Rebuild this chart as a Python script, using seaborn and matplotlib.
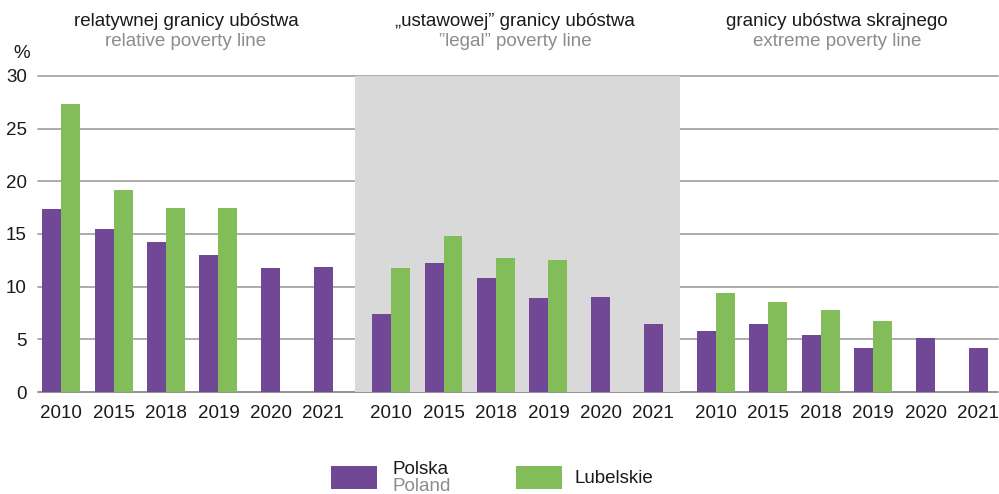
import matplotlib
matplotlib.use("Agg")
import matplotlib.pyplot as plt
from matplotlib.patches import Rectangle
import seaborn as sns
import pandas as pd

# ---- data ----
years = ["2010", "2015", "2018", "2019", "2020", "2021"]
titles_pl = ["relatywnej granicy ubóstwa", "\u201eustawowej\u201d granicy ubóstwa", "granicy ubóstwa skrajnego"]
titles_en = ["relative poverty line", "\u201dlegal\u201d poverty line", "extreme poverty line"]
polska_relative = [17.4, 15.5, 14.2, 13.0, 11.8, 11.9]
lubelskie_relative = [27.3, 19.2, 17.5, 17.5, None, None]
polska_legal = [7.4, 12.2, 10.8, 8.9, 9.0, 6.5]
lubelskie_legal = [11.8, 14.8, 12.7, 12.5, None, None]
polska_extreme = [5.8, 6.5, 5.4, 4.2, 5.1, 4.2]
lubelskie_extreme = [9.4, 8.5, 7.8, 6.7, None, None]
yticks = [0, 5, 10, 15, 20, 25, 30]

PURPLE = "#714896"
GREEN = "#82BD5A"
GREY_TXT = "#8c8c8c"
FS = 13.5

sns.set_theme(style="white")
plt.rcParams["font.family"] = ["Liberation Sans", "DejaVu Sans"]

group_offsets = [0.0, 6.29, 12.48]
series_data = [(polska_relative, lubelskie_relative),
               (polska_legal, lubelskie_legal),
               (polska_extreme, lubelskie_extreme)]

pair_rows, single_rows, tick_pos, tick_lab = [], [], [], []
for g, (pl, lu) in enumerate(series_data):
    for i, yr in enumerate(years):
        pos = group_offsets[g] + i
        tick_pos.append(pos)
        tick_lab.append(yr)
        if lu[i] is None:
            single_rows.append({"pos": pos, "value": pl[i], "series": "Polska"})
        else:
            pair_rows.append({"pos": pos, "value": pl[i], "series": "Polska"})
            pair_rows.append({"pos": pos, "value": lu[i], "series": "Lubelskie"})
pairs = pd.DataFrame(pair_rows)
singles = pd.DataFrame(single_rows)

fig = plt.figure(figsize=(9.99, 4.94), dpi=100)
W, H = 999, 494
ax = fig.add_axes([38 / W, (H - 392) / H, 960 / W, 316 / H])

# shaded middle panel
ax.axvspan(5.605, 11.80, color="#d9d9d9", zorder=0, lw=0)

# grid lines
for t in yticks:
    ax.axhline(t, color="#a6a6a6" if t else "#8a8a8a", lw=1.3, zorder=0.5, clip_on=False)

sns.barplot(data=pairs, x="pos", y="value", hue="series", hue_order=["Polska", "Lubelskie"],
            palette={"Polska": PURPLE, "Lubelskie": GREEN}, native_scale=True,
            width=0.724, dodge=True, saturation=1, errorbar=None, legend=False, ax=ax)
sns.barplot(data=singles, x="pos", y="value", color=PURPLE, native_scale=True,
            width=0.362, saturation=1, errorbar=None, ax=ax)
for p in ax.patches:
    p.set_linewidth(0)
    p.set_zorder(2)

ax.set_xlim(-0.44, 17.86)
ax.set_ylim(0, 30)
ax.set_xticks(tick_pos)
ax.set_xticklabels(tick_lab, fontsize=FS, color="#1a1a1a")
ax.set_yticks(yticks)
ax.set_yticklabels([str(t) for t in yticks], fontsize=FS, color="#1a1a1a")
ax.tick_params(axis="x", length=0, pad=9)
ax.tick_params(axis="y", length=0, pad=8)
ax.set_xlabel("")
ax.set_ylabel("")
for s in ax.spines.values():
    s.set_visible(False)
ax.patch.set_alpha(0)

def fx(px):
    return px / W

def fy(py):
    return 1 - py / H

title_x = [186, 515, 837]
for tx, tp, te in zip(title_x, titles_pl, titles_en):
    fig.text(fx(tx), fy(26), tp, ha="center", va="baseline", fontsize=FS, color="#1a1a1a")
    fig.text(fx(tx), fy(46.5), te, ha="center", va="baseline", fontsize=FS, color=GREY_TXT)
fig.text(fx(22), fy(58), "%", ha="center", va="baseline", fontsize=FS, color="#1a1a1a")

# legend
fig.patches.append(Rectangle((fx(331), fy(489)), 46 / W, 23 / H, transform=fig.transFigure,
                             facecolor=PURPLE, lw=0))
fig.patches.append(Rectangle((fx(516), fy(489)), 46 / W, 23 / H, transform=fig.transFigure,
                             facecolor=GREEN, lw=0))
fig.text(fx(393), fy(474), "Polska", ha="left", va="baseline", fontsize=FS, color="#1a1a1a")
fig.text(fx(393), fy(491), "Poland", ha="left", va="baseline", fontsize=FS, color=GREY_TXT)
fig.text(fx(575), fy(483), "Lubelskie", ha="left", va="baseline", fontsize=FS, color="#1a1a1a")

fig.savefig("out.png", dpi=100)
